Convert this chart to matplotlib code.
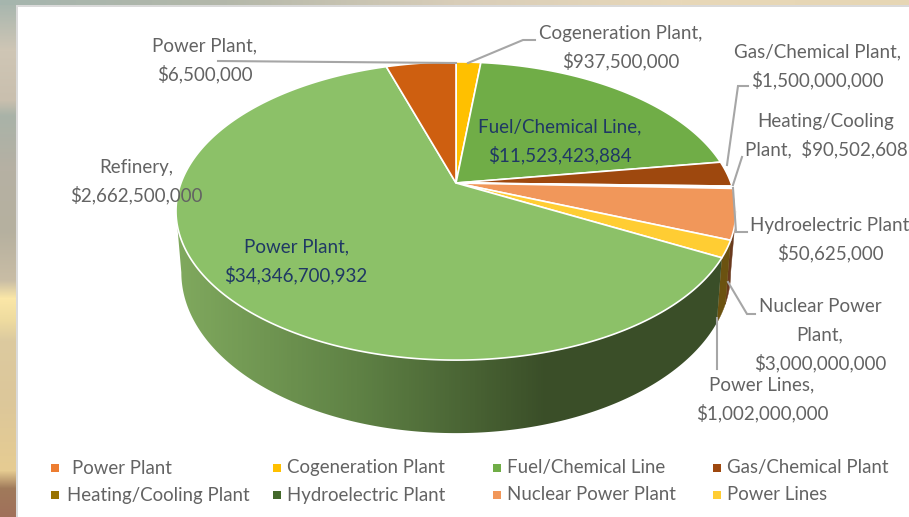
import matplotlib
matplotlib.use('Agg')
import matplotlib.pyplot as plt
import numpy as np
from matplotlib.colors import LinearSegmentedColormap, to_rgb
from matplotlib.patches import Polygon

plt.rcParams['font.family'] = ['Lato', 'DejaVu Sans']

# Slices clockwise from 12 o'clock
names = ['Power Plant', 'Cogeneration Plant', 'Fuel/Chemical Line', 'Gas/Chemical Plant',
         'Heating/Cooling Plant', 'Hydroelectric Plant', 'Nuclear Power Plant', 'Power Lines',
         'Power Plant', 'Refinery']
values = [6500000, 937500000, 11523423884, 1500000000, 90502608, 50625000,
          3000000000, 1002000000, 34346700932, 2662500000]
colors = ['#ED7D31', '#FFC000', '#70AD47', '#9E480E', '#997300', '#43682B',
          '#F1975A', '#FFCD33', '#8CC168', '#CE5F10']
wall_colors = ['#8a4a1c', '#8a6a00', '#3f6128', '#5c2a08', '#5a4400', '#26391a',
               '#6a3a1e', '#6b5210', '#3a4e28', '#7a3a0a']

legend_names = names[:8]
legend_cols = [55, 277, 497, 717]
legend_rows = [469, 496]

# text lines and where they sit: (lines, centre x, first line y, colour)
grey = '#636363'
navy = '#1F3864'
labels = [
    (['Power Plant,', '$6,500,000'], 205, 46, grey),
    (['Cogeneration Plant,', '$937,500,000'], 621, 33, grey),
    (['Fuel/Chemical Line,', '$11,523,423,884'], 560, 127, navy),
    (['Gas/Chemical Plant,', '$1,500,000,000'], 817, 52, grey),
    (['Heating/Cooling', 'Plant,  $90,502,608'], 826, 121, grey),
    (['Hydroelectric Plant', '$50,625,000'], 830, 225, grey),
    (['Nuclear Power', 'Plant,', '$3,000,000,000'], 820, 307, grey),
    (['Power Lines,', '$1,002,000,000'], 762, 385, grey),
    (['Power Plant,', '$34,346,700,932'], 296, 247, navy),
    (['Refinery,', '$2,662,500,000'], 136, 167, grey),
]

leaders = [
    ([218, 456], [61, 63]),
    ([468, 523, 535], [63, 40, 40]),
    ([727, 738, 748], [165, 86, 86]),
    ([733, 742], [185, 157]),
    ([733, 736, 747], [188, 232, 232]),
    ([728, 747, 755], [282, 314, 314]),
    ([717, 717], [318, 369]),
]

# photo behind the chart, top to bottom along the left edge
photo_y = [0, 50, 100, 115, 170, 230, 280, 298, 320, 340, 400, 470, 488, 517]
photo_c = ['#A5B5AE', '#CFC6B5', '#C9BFAE', '#A9B3A8', '#B6B0A3', '#B5B09F', '#C9BDA5',
           '#FBE7A7', '#EEDB9F', '#DCCA9F', '#DCC79A', '#E6CC92', '#A07A5A', '#A0705A']
top_c = ['#A5B5AE', '#B4B8AA', '#D8CDB8', '#E8D8B8', '#E6D6B4']

# tilted disc, seen in perspective
cx, cy = 456, 183
ax_w, ax_h, tilt = 275, 143.8, 0.188
depth, shrink = 59.3, 0.019


def rim(theta):
    w = 1 + tilt * np.cos(theta)
    return cx + ax_w * np.sin(theta) / w, cy - ax_h * np.cos(theta) / w


def lower(theta):
    x, y = rim(theta)
    w = 1 + tilt * np.cos(theta)
    return cx + (x - cx) * (1 - shrink), y + depth / w


fig = plt.figure(figsize=(9.09, 5.17), dpi=100)
ax = fig.add_axes([0, 0, 1, 1])

# background photo strips and chart frame
yy = np.arange(517)
rgb = np.array([to_rgb(c) for c in photo_c])
strip = np.stack([np.interp(yy, photo_y, rgb[:, i]) for i in range(3)], axis=1)[:, None, :]
ax.imshow(strip, extent=[0, 16, 517, 0], aspect='auto', zorder=1)
top_rgb = np.array([to_rgb(c) for c in top_c])
top = np.stack([np.interp(np.linspace(0, 1, 909), np.linspace(0, 1, 5), top_rgb[:, i]) for i in range(3)], axis=1)[None, :, :]
ax.imshow(top, extent=[0, 909, 5, 0], aspect='auto', zorder=1)
ax.fill([16, 909, 909, 18, 18, 16], [5, 5, 7, 7, 517, 517], color='#DADADA', lw=0, zorder=2)

edges = np.cumsum([0] + values) / sum(values) * 2 * np.pi
silhouette = np.arccos(-tilt)

# side wall, big slice gets a left to right shade
shade = LinearSegmentedColormap.from_list('shade', [(0, '#80A95E'), (0.33, '#5F8245'), (0.68, '#3A4E28'), (1, '#3A4E28')])
for i in range(len(values)):
    a = max(edges[i], silhouette)
    b = min(edges[i + 1], 2 * np.pi - silhouette)
    if b <= a:
        continue
    steps = np.linspace(a, b, 200)
    xa, ya = rim(steps)
    xb, yb = lower(steps)
    wall = np.c_[np.r_[xa, xb[::-1]], np.r_[ya, yb[::-1]]]
    if i == 8:
        patch = Polygon(wall, closed=True, transform=ax.transData, facecolor='none', lw=0)
        ax.add_patch(patch)
        im = ax.imshow(np.linspace(0, 1, 546)[None, :], cmap=shade, vmin=0, vmax=1,
                       extent=[176, 722, 450, 200], aspect='auto', zorder=3)
        im.set_clip_path(patch)
    else:
        ax.fill(wall[:, 0], wall[:, 1], color=wall_colors[i], lw=0.3, zorder=3)

ax.set_xlim(0, 909)
ax.set_ylim(517, 0)
ax.axis('off')

# top face
for i in range(len(values)):
    steps = np.linspace(edges[i], edges[i + 1], max(2, int((edges[i + 1] - edges[i]) * 120) + 1))
    xs, ys = rim(steps)
    ax.fill(np.r_[cx, xs], np.r_[cy, ys], facecolor=colors[i], edgecolor='white', lw=1.2, joinstyle='round', zorder=4)

for lx, ly in leaders:
    ax.plot(lx, ly, color='#A6A6A6', lw=1.5, zorder=5, solid_joinstyle='miter')

for lines, x, y, col in labels:
    for k, line in enumerate(lines):
        ax.text(x, y + k * 28, line, color=col, fontsize=13.5, ha='center', va='center', zorder=6)

for k, name in enumerate(legend_names):
    lx = legend_cols[k % 4]
    ly = legend_rows[k // 4] - 1
    ax.scatter([lx], [ly], marker='s', s=36, color=colors[k], lw=0, zorder=6)
    tx = lx + 17 if k == 0 else lx + 10
    if k == 4:
        tx = lx + 12
    ax.text(tx, ly, name, color=grey, fontsize=13.4, ha='left', va='center', zorder=6)

fig.savefig('out.png', dpi=100)
